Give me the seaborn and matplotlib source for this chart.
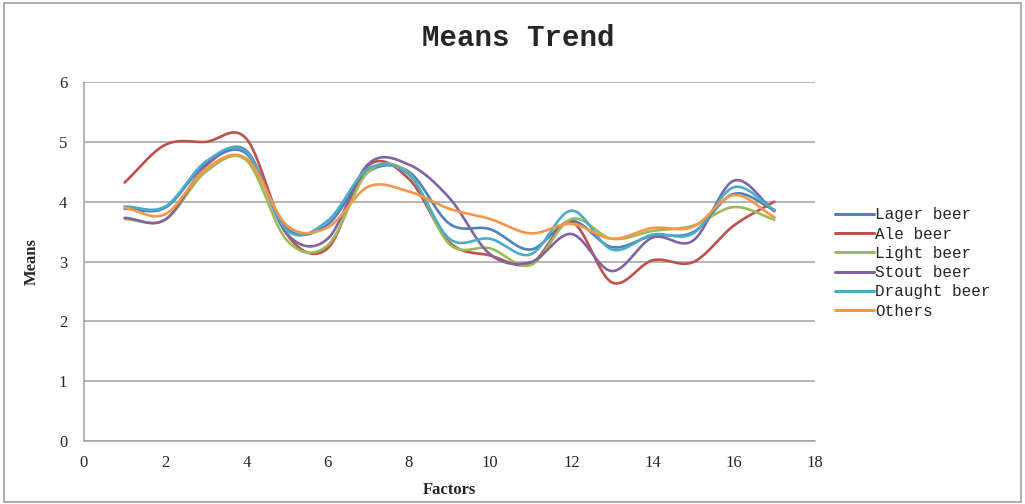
import matplotlib
matplotlib.use('Agg')
import matplotlib.pyplot as plt
import seaborn as sns
import pandas as pd
import numpy as np

# factor index 1..17, means
factors = list(range(1, 18))
lager   = [3.88, 3.90, 4.63, 4.80, 3.55, 3.62, 4.50, 4.50, 3.63, 3.54, 3.20, 3.68, 3.24, 3.43, 3.49, 4.13, 3.86]
ale     = [4.32, 4.95, 5.00, 5.05, 3.45, 3.22, 4.60, 4.38, 3.32, 3.10, 2.96, 3.66, 2.65, 3.02, 2.99, 3.60, 4.00]
light   = [3.71, 3.70, 4.50, 4.69, 3.35, 3.27, 4.50, 4.47, 3.29, 3.22, 2.94, 3.71, 3.38, 3.51, 3.60, 3.91, 3.70]
stout   = [3.73, 3.70, 4.60, 4.85, 3.46, 3.38, 4.63, 4.62, 4.06, 3.12, 2.99, 3.46, 2.84, 3.40, 3.35, 4.35, 3.84]
draught = [3.92, 3.92, 4.67, 4.83, 3.52, 3.68, 4.55, 4.45, 3.38, 3.38, 3.12, 3.85, 3.20, 3.45, 3.47, 4.24, 3.86]
others  = [3.90, 3.79, 4.55, 4.72, 3.60, 3.57, 4.25, 4.17, 3.88, 3.71, 3.47, 3.63, 3.38, 3.56, 3.58, 4.11, 3.74]

names = ['Lager beer', 'Ale beer', 'Light beer', 'Stout beer', 'Draught beer', 'Others']
series = [lager, ale, light, stout, draught, others]
colors = ['#4F81BD', '#C0504D', '#9BBB59', '#8064A2', '#4BACC6', '#F79646']


def smooth(x, y, n=30):
    # Excel style smoothed line (Catmull-Rom through the points)
    x = np.asarray(x, float)
    y = np.asarray(y, float)
    px = np.concatenate([[2 * x[0] - x[1]], x, [2 * x[-1] - x[-2]]])
    py = np.concatenate([[2 * y[0] - y[1]], y, [2 * y[-1] - y[-2]]])
    xs, ys = [], []
    t = np.linspace(0, 1, n, endpoint=False)
    for i in range(1, len(px) - 2):
        for p, out in ((px, xs), (py, ys)):
            p0, p1, p2, p3 = p[i - 1], p[i], p[i + 1], p[i + 2]
            out.extend(0.5 * ((2 * p1) + (-p0 + p2) * t
                              + (2 * p0 - 5 * p1 + 4 * p2 - p3) * t ** 2
                              + (-p0 + 3 * p1 - 3 * p2 + p3) * t ** 3))
    xs.append(x[-1])
    ys.append(y[-1])
    return np.array(xs), np.array(ys)


rows = []
for name, vals in zip(names, series):
    sx, sy = smooth(factors, vals)
    for a, b in zip(sx, sy):
        rows.append((name, a, b))
df = pd.DataFrame(rows, columns=['beer', 'Factors', 'Means'])

sns.set_style('white')
plt.rcParams['font.family'] = ['Liberation Serif', 'DejaVu Sans']

fig = plt.figure(figsize=(10.25, 5.04), dpi=100)
ax = fig.add_axes([84 / 1025, 1 - 441 / 504, (815 - 84) / 1025, (441 - 82) / 504])

sns.lineplot(data=df, x='Factors', y='Means', hue='beer', palette=colors,
             hue_order=names, sort=False, estimator=None, linewidth=1.9, ax=ax)

ax.set_xlim(0, 18)
ax.set_ylim(0, 6)
ax.set_xticks(range(0, 19, 2))
ax.set_yticks(range(0, 7))
ax.yaxis.grid(True, color='#A0A0A0', linewidth=1.1)
ax.set_axisbelow(True)
for s in ['top', 'right']:
    ax.spines[s].set_visible(False)
for s in ['left', 'bottom']:
    ax.spines[s].set_color('#A0A0A0')
    ax.spines[s].set_linewidth(1.1)
ax.tick_params(axis='both', labelsize=12, length=4, color='#A0A0A0', direction='out')
ax.tick_params(axis='x', pad=6)
ax.tick_params(axis='y', pad=8)

ax.set_xlabel('Factors', fontsize=12, fontweight='bold', labelpad=8)
ax.set_ylabel('Means', fontsize=12, fontweight='bold', labelpad=14)
fig.text(0.506, 0.925, 'Means Trend', ha='center', va='center', fontsize=21,
         fontweight='bold', family='Liberation Mono')

leg = ax.legend(loc='upper left', bbox_to_anchor=(1.019, 0.669), frameon=False,
                prop={'family': 'Liberation Mono', 'size': 11.5},
                handlelength=2.4, handletextpad=0.1, labelspacing=0.27,
                borderaxespad=0)
for line in leg.get_lines():
    line.set_linewidth(2.2)

# chart area border
fig.add_artist(plt.Rectangle((0.004, 0.004), 0.992, 0.99, transform=fig.transFigure,
                             fill=False, edgecolor='#A0A0A0', linewidth=1.2))

fig.savefig('out.png', dpi=100)
